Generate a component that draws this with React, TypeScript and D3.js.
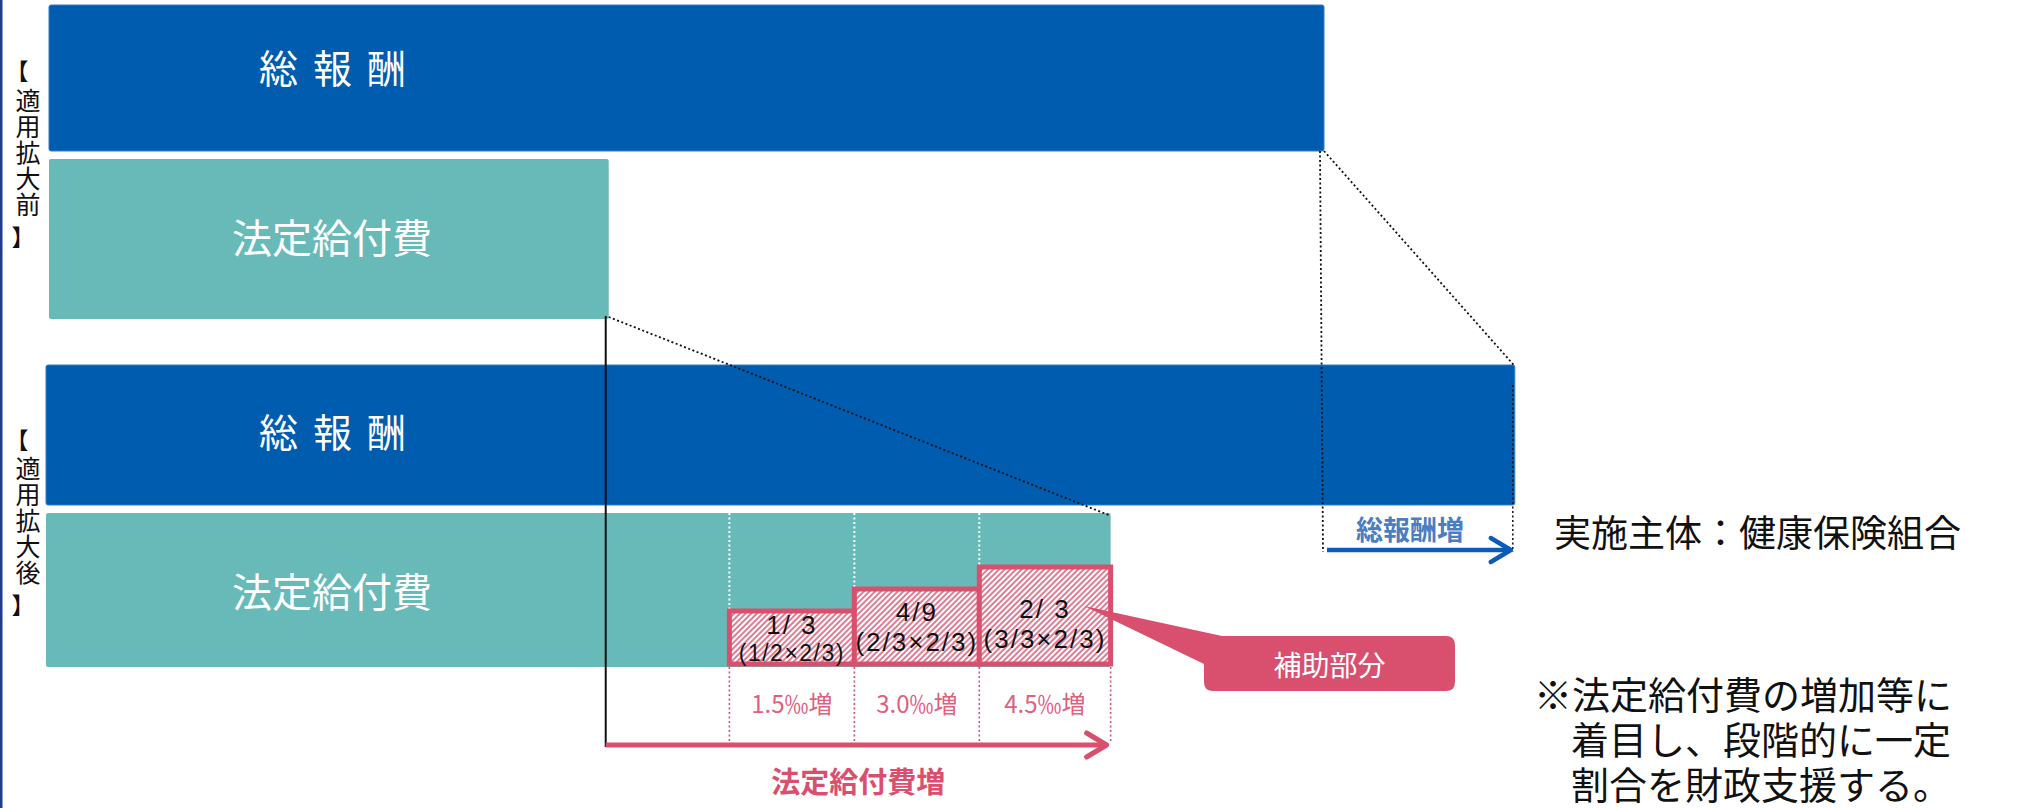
import * as d3 from "d3";

// ---- data ----
const periods = ["適用拡大前", "適用拡大後"];
const brackets = ["【", "】"];
const barNames = ["総報酬", "法定給付費"];
const totalPay = [100, 115.2]; // relative size of total remuneration
const benefitCost = [43.9, 83.5]; // relative size of statutory benefit cost
const stepEdges = [53.6, 63.4, 73.2, 83.5]; // benefit growth steps after expansion
const subsidyLevel = [1, 2, 3];
const subsidyRatio = ["1/ 3", "4/9", "2/ 3"];
const subsidyFormula = ["(1/2×2/3)", "(2/3×2/3)", "(3/3×2/3)"];
const rateIncrease = ["1.5‰増", "3.0‰増", "4.5‰増"];
const payIncreaseLabel = "総報酬増";
const benefitIncreaseLabel = "法定給付費増";
const calloutLabel = "補助部分";
const operatorLabel = "実施主体：健康保険組合";
const noteLines = ["※法定給付費の増加等に", "着目し、段階的に一定", "割合を財政支援する。"];

// ---- layout ----
const W = 2018;
const H = 808;
const FONT = "'Noto Sans CJK JP', 'Noto Sans', sans-serif";
const LATIN = "'Liberation Sans', Arial, sans-serif";
const BLUE = "#005cae";
const TEAL = "#68bab8";
const PINK = "#d9506f";

const rows = [
  { x0: 49, blue: [5, 151], teal: [159, 319], openY: 70, colTop: 88, closeY: 236, payTextY: 66, benTextY: 236 },
  { x0: 46, blue: [365, 505], teal: [513, 667], openY: 439, colTop: 456, closeY: 604, payTextY: 430, benTextY: 590 },
];
const UNIT = 12.75; // px per unit
const boxBottom = 664;
const boxMainOffset = [-39, -52, -55];
const boxSubOffset = [-11, -22, -25];
const boxMainSize = [26, 26, 26];
const boxSubSize = [23, 26, 26];
const boxSubSpacing = [1.5, 2, 2];

export default function App() {
  const xs = rows.map((r) =>
    d3.scaleLinear().domain([0, 100]).range([r.x0, r.x0 + 100 * UNIT])
  );
  const xTop = xs[0];
  const xBot = xs[1];
  const yBox = d3.scaleLinear().domain([1, 3]).range([611, 567]);

  const payStart = xTop(totalPay[0]);
  const payEnd = xBot(totalPay[1]);
  const benStart = xBot(benefitCost[0]);
  const benEnd = xBot(benefitCost[1]);

  const steps = d3.range(stepEdges.length - 1).map((i) => ({
    x1: xBot(stepEdges[i]),
    x2: xBot(stepEdges[i + 1]),
    top: yBox(subsidyLevel[i]),
    i,
  }));

  // callout
  const cb = { x: 1204, y: 636, w: 251, h: 55, r: 9 };
  const tip = { x: 1084, y: 606 };
  const calloutPath = [
    `M${cb.x + 18},${cb.y}`,
    `L${cb.x + cb.w - cb.r},${cb.y}`,
    `Q${cb.x + cb.w},${cb.y} ${cb.x + cb.w},${cb.y + cb.r}`,
    `L${cb.x + cb.w},${cb.y + cb.h - cb.r}`,
    `Q${cb.x + cb.w},${cb.y + cb.h} ${cb.x + cb.w - cb.r},${cb.y + cb.h}`,
    `L${cb.x + cb.r},${cb.y + cb.h}`,
    `Q${cb.x},${cb.y + cb.h} ${cb.x},${cb.y + cb.h - cb.r}`,
    `L${cb.x},${cb.y + 28}`,
    `L${tip.x},${tip.y}`,
    "Z",
  ].join(" ");

  return (
    <svg
      width={W}
      height={H}
      viewBox={`0 0 ${W} ${H}`}
      style={{ position: "absolute", left: 0, top: 0, background: "#fff" }}
      fontFamily={FONT}
    >
      <defs>
        <pattern
          id="hatch"
          width="4"
          height="4"
          patternUnits="userSpaceOnUse"
          patternTransform="rotate(45)"
        >
          <rect width="4" height="4" fill="#fff" />
          <line x1="1" y1="0" x2="1" y2="4" stroke={PINK} strokeWidth="1.5" />
        </pattern>
      </defs>

      <rect x={0} y={0} width={2.5} height={H} fill="#1f3a93" />

      {rows.map((r, ri) => (
        <g key={ri}>
          <rect
            x={r.x0}
            y={r.blue[0]}
            width={xs[ri](totalPay[ri]) - r.x0}
            height={r.blue[1] - r.blue[0]}
            rx={2}
            fill={BLUE}
            stroke="#2f7fcc"
            strokeWidth={1}
          />
          <rect
            x={r.x0}
            y={r.teal[0]}
            width={xs[ri](benefitCost[ri]) - r.x0}
            height={r.teal[1] - r.teal[0]}
            rx={2}
            fill={TEAL}
          />
          <text
            x={259}
            y={r.payTextY}
            fill="#fff"
            fontSize={39}
            letterSpacing={15}
            dominantBaseline="central"
          >
            {barNames[0]}
          </text>
          <text
            x={232}
            y={r.benTextY}
            fill="#fff"
            fontSize={40}
            dominantBaseline="central"
          >
            {barNames[1]}
          </text>

          {/* vertical period label */}
          <text x={17} y={r.openY} fontSize={23} fill="#111" textAnchor="middle" dominantBaseline="central">
            {brackets[0]}
          </text>
          <text
            x={28}
            y={r.colTop}
            fontSize={25}
            fill="#111"
            letterSpacing={1}
            style={{ writingMode: "vertical-rl", textOrientation: "upright" }}
          >
            {periods[ri]}
          </text>
          <text x={23} y={r.closeY} fontSize={23} fill="#111" textAnchor="middle" dominantBaseline="central">
            {brackets[1]}
          </text>
        </g>
      ))}

      {/* dotted guides for total remuneration */}
      <line x1={payStart - 4} y1={rows[0].blue[1]} x2={payStart - 1} y2={552} stroke="#111" strokeWidth={1.8} strokeDasharray="2,2.5" />
      <line x1={payStart} y1={rows[0].blue[1]} x2={payEnd - 1} y2={rows[1].blue[0]} stroke="#111" strokeWidth={1.8} strokeDasharray="2,2.5" />
      <line x1={payEnd - 2} y1={rows[1].blue[0] + 20} x2={payEnd - 2} y2={552} stroke="#111" strokeWidth={1.5} strokeDasharray="2,2.5" />

      {/* benefit guides */}
      <line x1={benStart} y1={316} x2={benStart} y2={747} stroke="#111" strokeWidth={2} />
      <line x1={xTop(benefitCost[0])} y1={317} x2={benEnd - 2} y2={rows[1].teal[0] + 2} stroke="#111" strokeWidth={1.8} strokeDasharray="2,2.5" />

      {/* white dotted step lines in teal */}
      {steps.map((s) => (
        <line key={"w" + s.i} x1={s.x1} y1={rows[1].teal[0]} x2={s.x1} y2={s.top} stroke="#fff" strokeWidth={2} strokeDasharray="2,2.5" />
      ))}

      {/* pink dotted step lines below */}
      {stepEdges.map((v, i) => (
        <line key={"p" + i} x1={xBot(v)} y1={rows[1].teal[1]} x2={xBot(v)} y2={743} stroke={PINK} strokeWidth={1.6} strokeDasharray="2,2.5" />
      ))}

      {/* hatched subsidy boxes */}
      {steps.map((s) => (
        <rect
          key={"b" + s.i}
          x={s.x1}
          y={s.top}
          width={s.x2 - s.x1}
          height={boxBottom - s.top}
          fill="url(#hatch)"
          stroke={PINK}
          strokeWidth={5}
        />
      ))}
      {steps.map((s) => (
        <g key={"t" + s.i}>
          <text x={(s.x1 + s.x2) / 2} y={boxBottom + boxMainOffset[s.i]} fontFamily={LATIN} fontSize={boxMainSize[s.i]} letterSpacing={2} textAnchor="middle" dominantBaseline="central" fill="#111">
            {subsidyRatio[s.i]}
          </text>
          <text x={(s.x1 + s.x2) / 2} y={boxBottom + boxSubOffset[s.i]} fontFamily={LATIN} fontSize={boxSubSize[s.i]} letterSpacing={boxSubSpacing[s.i]} textAnchor="middle" dominantBaseline="central" fill="#111">
            {subsidyFormula[s.i]}
          </text>
          <text x={(s.x1 + s.x2) / 2} y={702} fontSize={24} textAnchor="middle" dominantBaseline="central" fill="#e0607e">
            {rateIncrease[s.i]}
          </text>
        </g>
      ))}

      {/* callout */}
      <path d={calloutPath} fill={PINK} />
      <text x={cb.x + cb.w / 2} y={cb.y + cb.h / 2} fontSize={28} fill="#fff" textAnchor="middle" dominantBaseline="central">
        {calloutLabel}
      </text>

      {/* benefit increase arrow */}
      <line x1={benStart} y1={745} x2={benEnd - 4} y2={745} stroke={PINK} strokeWidth={5} />
      <polyline points={`${benEnd - 24},733 ${benEnd - 4},745 ${benEnd - 24},757`} fill="none" stroke={PINK} strokeWidth={5} strokeLinecap="round" strokeLinejoin="round" />
      <text x={(benStart + benEnd) / 2} y={780} fontSize={29} fontWeight="bold" fill={PINK} textAnchor="middle" dominantBaseline="central">
        {benefitIncreaseLabel}
      </text>

      {/* total remuneration increase arrow */}
      <line x1={payStart + 3} y1={550} x2={payEnd - 4} y2={550} stroke="#0b5cb8" strokeWidth={4.5} />
      <polyline points={`${payEnd - 24},538 ${payEnd - 4},550 ${payEnd - 24},562`} fill="none" stroke="#0b5cb8" strokeWidth={4.5} strokeLinecap="round" strokeLinejoin="round" />
      <text x={1410} y={528} fontSize={27} fontWeight="bold" fill="#4a7dc2" textAnchor="middle" dominantBaseline="central">
        {payIncreaseLabel}
      </text>

      <text x={1554} y={531} fontSize={37} fill="#111" dominantBaseline="central">
        {operatorLabel}
      </text>

      {noteLines.map((t, i) => (
        <text key={i} x={i === 0 ? 1534 : 1571} y={692 + i * 45} fontSize={38} fill="#111" dominantBaseline="central">
          {t}
        </text>
      ))}
    </svg>
  );
}
